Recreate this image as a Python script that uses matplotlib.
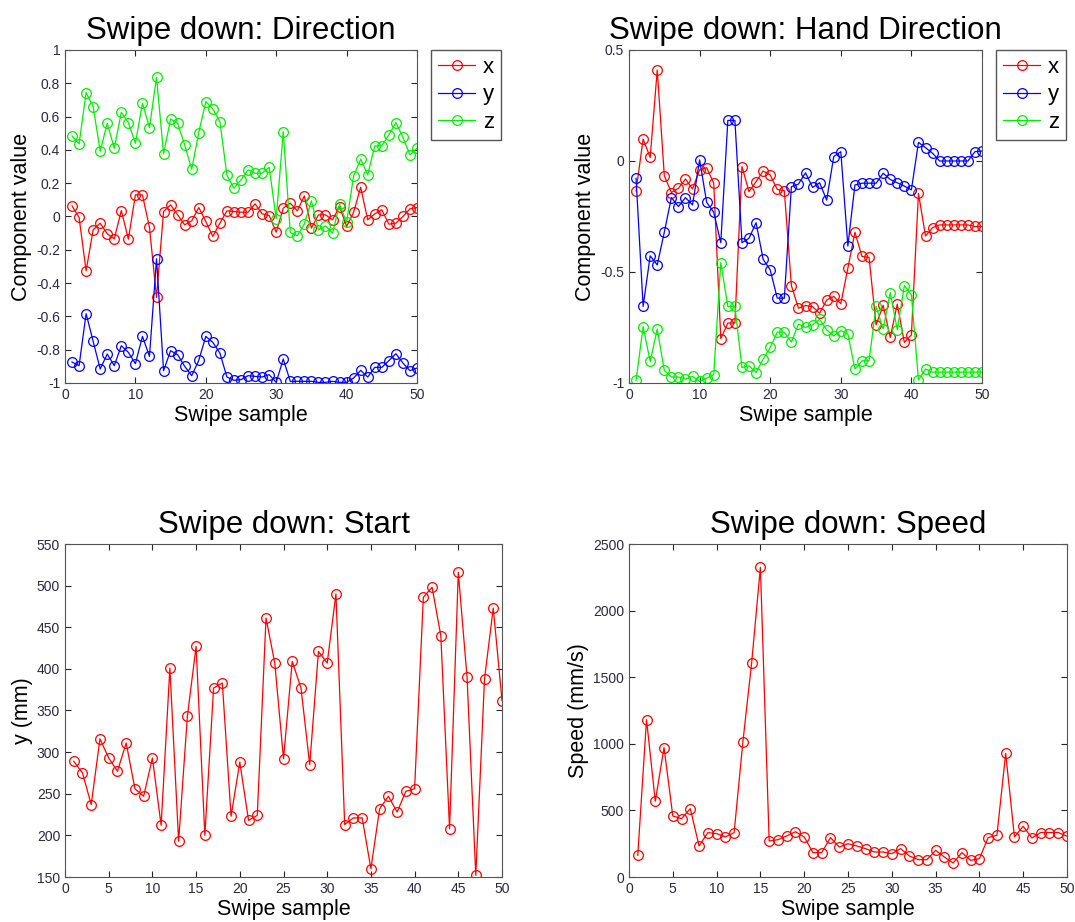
import matplotlib
matplotlib.use('Agg')
import matplotlib.pyplot as plt
import numpy as np

# swipe samples 1..50
samples = list(range(1, 51))

# Direction (x, y, z components)
dir_x = [0.064, -0.006, -0.326, -0.08, -0.04, -0.104, -0.134, 0.036, -0.136, 0.13,
         0.13, -0.066, -0.486, 0.03, 0.07, 0.01, -0.05, -0.026, 0.054, -0.03,
         -0.12, -0.04, 0.034, 0.03, 0.026, 0.026, 0.076, 0.016, 0.006, -0.094,
         0.05, 0.08, 0.034, 0.124, -0.07, 0.01, 0.01, -0.02, 0.06, -0.06,
         0.026, 0.176, -0.02, 0.016, 0.04, -0.046, -0.04, 0.0, 0.046, 0.054]
dir_y = [-0.874, -0.896, -0.584, -0.75, -0.916, -0.826, -0.896, -0.776, -0.816, -0.884,
         -0.72, -0.84, -0.254, -0.926, -0.806, -0.83, -0.9, -0.956, -0.864, -0.72,
         -0.756, -0.82, -0.964, -0.984, -0.98, -0.956, -0.96, -0.964, -0.95, -0.996,
         -0.856, -0.99, -0.99, -0.99, -0.99, -0.996, -0.996, -0.99, -0.996, -0.996,
         -0.97, -0.924, -0.964, -0.906, -0.906, -0.866, -0.824, -0.88, -0.926, -0.91]
dir_z = [0.484, 0.436, 0.744, 0.66, 0.392, 0.56, 0.41, 0.626, 0.564, 0.44,
         0.68, 0.534, 0.836, 0.376, 0.586, 0.56, 0.43, 0.284, 0.504, 0.69,
         0.646, 0.57, 0.248, 0.17, 0.22, 0.28, 0.26, 0.26, 0.296, -0.014,
         0.51, -0.096, -0.116, -0.044, 0.094, -0.08, -0.056, -0.1, 0.074, -0.036,
         0.244, 0.344, 0.25, 0.424, 0.424, 0.49, 0.564, 0.476, 0.37, 0.41]

# Hand direction (x, y, z components)
hand_x = [-0.135, 0.099, 0.016, 0.41, -0.066, -0.142, -0.123, -0.081, -0.126, -0.04,
          -0.03, -0.1, -0.80, -0.73, -0.73, -0.025, -0.138, -0.093, -0.045, -0.063,
          -0.128, -0.134, -0.561, -0.663, -0.651, -0.656, -0.686, -0.626, -0.61, -0.643,
          -0.483, -0.321, -0.43, -0.434, -0.738, -0.65, -0.795, -0.645, -0.817, -0.783,
          -0.146, -0.338, -0.30, -0.288, -0.288, -0.288, -0.288, -0.288, -0.295, -0.295]
hand_y = [-0.078, -0.655, -0.427, -0.468, -0.321, -0.165, -0.205, -0.165, -0.198, 0.005,
          -0.186, -0.231, -0.368, 0.183, 0.183, -0.368, -0.348, -0.278, -0.443, -0.49,
          -0.618, -0.618, -0.116, -0.104, -0.053, -0.119, -0.098, -0.176, 0.02, 0.042,
          -0.383, -0.108, -0.1, -0.1, -0.1, -0.055, -0.083, -0.098, -0.113, -0.13,
          0.084, 0.06, 0.035, 0.0, 0.0, 0.0, 0.0, 0.0, 0.042, 0.045]
hand_z = [-0.988, -0.746, -0.903, -0.757, -0.943, -0.973, -0.973, -0.982, -0.97, -0.993,
          -0.978, -0.963, -0.458, -0.655, -0.655, -0.93, -0.923, -0.953, -0.893, -0.84,
          -0.771, -0.771, -0.816, -0.735, -0.75, -0.738, -0.713, -0.761, -0.788, -0.764,
          -0.78, -0.937, -0.9, -0.9, -0.655, -0.757, -0.593, -0.76, -0.561, -0.603,
          -0.986, -0.937, -0.951, -0.951, -0.951, -0.951, -0.951, -0.951, -0.951, -0.951]

# Start position (mm)
start_y = [289, 275, 237, 316, 293, 277, 311, 256, 247, 293,
           212, 401, 193, 343, 427, 200, 377, 383, 223, 288,
           218, 224, 461, 407, 292, 409, 377, 285, 421, 407,
           490, 213, 221, 221, 160, 232, 247, 228, 253, 256,
           486, 498, 440, 208, 516, 390, 152, 388, 473, 362]

# Speed (mm/s)
speed = [163, 1182, 569, 972, 458, 438, 513, 233, 333, 326,
         301, 333, 1014, 1608, 2325, 270, 280, 308, 340, 301,
         183, 183, 296, 225, 250, 233, 213, 188, 188, 175,
         213, 158, 130, 130, 200, 150, 105, 183, 125, 138,
         296, 313, 928, 301, 381, 293, 334, 334, 334, 306]

W, H = 1075, 922
fig = plt.figure(figsize=(W / 100, H / 100), dpi=100)
plt.rcParams['font.family'] = 'Liberation Sans'


def pos(l, r, t, b):
    return [l / W, 1 - b / H, (r - l) / W, (b - t) / H]


def style(ax, title, ylabel, xticks, yticks, ylim):
    ax.set_xlim(0, 50)
    ax.set_ylim(*ylim)
    ax.set_xticks(xticks)
    ax.set_yticks(yticks)
    ax.tick_params(direction='in', top=True, right=True, length=4,
                   labelsize=10, colors='#262626', labelcolor='#2a2a3a')
    for s in ax.spines.values():
        s.set_color('#555555')
    ax.set_title(title, fontsize=22.5, pad=8)
    ax.set_xlabel('Swipe sample', fontsize=15.5, labelpad=2)
    ax.set_ylabel(ylabel, fontsize=15.5, labelpad=3)


def add_legend(ax, left_px):
    ax.legend(loc='upper left', bbox_to_anchor=(left_px / W, 1 - 50 / H),
              bbox_transform=fig.transFigure, borderaxespad=0, fontsize=16,
              handlelength=1.7, fancybox=False, edgecolor='#555555',
              labelspacing=0.3, handletextpad=0.35, borderpad=0.3, framealpha=1)


mk = dict(marker='o', mfc='none', markersize=7, linewidth=0.9, markeredgewidth=0.9)
GREEN = '#00ee00'

ax1 = fig.add_axes(pos(65, 417, 50, 383))
ax1.plot(samples, dir_x, color='#ff0000', label='x', **mk)
ax1.plot(samples, dir_y, color='#0000ff', label='y', **mk)
ax1.plot(samples, dir_z, color=GREEN, label='z', **mk)
style(ax1, 'Swipe down: Direction', 'Component value', [0, 10, 20, 30, 40, 50],
      np.round(np.arange(-1, 1.01, 0.2), 1), (-1, 1))
ax1.set_yticklabels(['-1', '-0.8', '-0.6', '-0.4', '-0.2', '0', '0.2', '0.4', '0.6', '0.8', '1'])
add_legend(ax1, 431)

ax2 = fig.add_axes(pos(629, 982, 50, 383))
ax2.plot(samples, hand_x, color='#ff0000', label='x', **mk)
ax2.plot(samples, hand_y, color='#0000ff', label='y', **mk)
ax2.plot(samples, hand_z, color=GREEN, label='z', **mk)
style(ax2, 'Swipe down: Hand Direction', 'Component value', [0, 10, 20, 30, 40, 50],
      [-1, -0.5, 0, 0.5], (-1, 0.5))
ax2.set_yticklabels(['-1', '-0.5', '0', '0.5'])
add_legend(ax2, 996)

ax3 = fig.add_axes(pos(65, 502, 544, 877))
ax3.plot(samples, start_y, color='#ff0000', **mk)
style(ax3, 'Swipe down: Start', 'y (mm)', list(range(0, 51, 5)),
      list(range(150, 551, 50)), (150, 550))

ax4 = fig.add_axes(pos(629, 1067, 544, 877))
ax4.plot(samples, speed, color='#ff0000', **mk)
style(ax4, 'Swipe down: Speed', 'Speed (mm/s)', list(range(0, 51, 5)),
      list(range(0, 2501, 500)), (0, 2500))

fig.savefig('out.png', dpi=100)
